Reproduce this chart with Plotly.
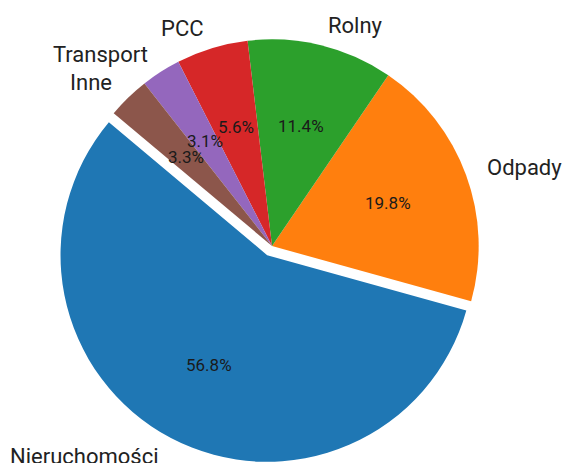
import math
import plotly.graph_objects as go

# data
categories = ["Nieruchomości", "Odpady", "Rolny", "PCC", "Transport", "Inne"]
shares = [56.8, 19.8, 11.4, 5.6, 3.1, 3.3]
pulls = [0.05, 0, 0, 0, 0, 0]
colors = ["#1f77b4", "#ff7f0e", "#2ca02c", "#d62728", "#9467bd", "#8c564b"]

W, H = 569, 463
margin = dict(l=0, r=25, t=29, b=0)
start_angle = 140  # degrees, counterclockwise from 3 o'clock
total = sum(shares)

# plotly's counterclockwise pies put the first slice *ending* at the rotation angle,
# so shift by the first slice's span to make it start at start_angle
first_end = start_angle + 360 * shares[0] / total
rot = (90 - first_end) % 360
if rot > 180:
    rot -= 360

fig = go.Figure(go.Pie(
    labels=categories,
    values=shares,
    sort=False,
    direction="counterclockwise",
    rotation=rot,
    pull=pulls,
    marker=dict(colors=colors, line=dict(width=0)),
    textinfo="none",
    hoverinfo="label+percent",
    showlegend=False,
    domain=dict(x=[0, 1], y=[0, 1]),
))

# geometry of the pie, used to place labels like matplotlib does
pw = W - margin["l"] - margin["r"]
ph = H - margin["t"] - margin["b"]
radius = min(pw, ph) / (2 * (1 + max(pulls)))

annotations = []
angle = start_angle
for name, val, pull in zip(categories, shares, pulls):
    span = 360 * val / total
    mid = math.radians(angle + span / 2)
    angle += span
    cx, cy = math.cos(mid), math.sin(mid)

    # category label at 1.1 r
    d = (1.1 + pull) * radius
    annotations.append(dict(
        x=0.5 + d * cx / pw, y=0.5 + d * cy / ph,
        xref="paper", yref="paper",
        text=name, showarrow=False,
        xanchor="left" if cx > 0 else "right", yanchor="middle",
        font=dict(size=22, color="#222222"),
    ))
    # percentage at 0.6 r
    d = (0.6 + pull) * radius
    annotations.append(dict(
        x=0.5 + d * cx / pw, y=0.5 + d * cy / ph,
        xref="paper", yref="paper",
        text=f"{val:.1f}%", showarrow=False,
        xanchor="center", yanchor="middle",
        font=dict(size=17, color="#1a1a1a"),
    ))

fig.update_layout(
    width=W,
    height=H,
    margin=margin,
    paper_bgcolor="white",
    plot_bgcolor="white",
    font=dict(family="Roboto, sans-serif"),
    annotations=annotations,
)

fig.write_html(
    "out.html",
    config={"displayModeBar": False},
    post_script="document.body.style.margin='0';document.body.style.overflow='hidden';",
)
